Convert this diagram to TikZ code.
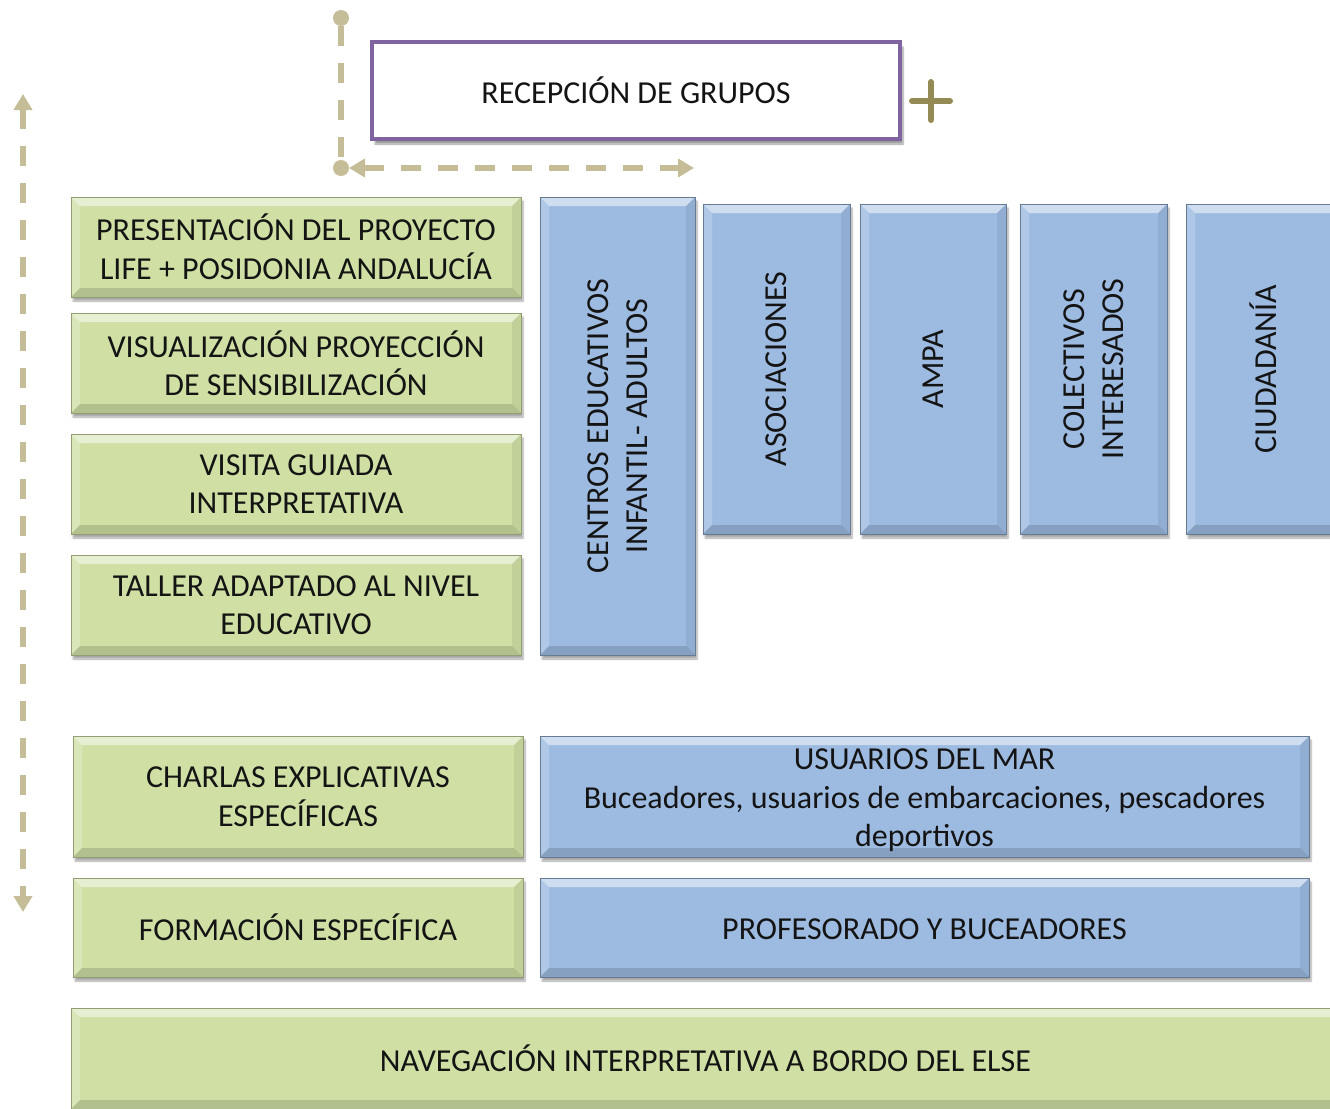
\documentclass[tikz,border=0pt]{standalone}
\usepackage{fontspec}
\setmainfont{Carlito}
\usetikzlibrary{arrows.meta,shadows.blur}
\definecolor{gfill}{RGB}{208,224,165}
\definecolor{bfill}{RGB}{157,187,225}
\definecolor{purp}{RGB}{128,100,162}
\definecolor{tan}{RGB}{196,189,151}
\definecolor{olive}{RGB}{148,138,84}
\definecolor{txt}{RGB}{20,20,20}
\tikzset{
  bevel/.style={path picture={
    \fill[white,opacity=.5] (path picture bounding box.north west) -- (path picture bounding box.north east) -- ([xshift=-9pt,yshift=-9pt]path picture bounding box.north east) -- ([xshift=9pt,yshift=-9pt]path picture bounding box.north west) -- cycle;
    \fill[white,opacity=.2] (path picture bounding box.north west) -- ([xshift=9pt,yshift=-9pt]path picture bounding box.north west) -- ([xshift=9pt,yshift=9pt]path picture bounding box.south west) -- (path picture bounding box.south west) -- cycle;
    \fill[black,opacity=.07] (path picture bounding box.north east) -- ([xshift=-9pt,yshift=-9pt]path picture bounding box.north east) -- ([xshift=-9pt,yshift=9pt]path picture bounding box.south east) -- (path picture bounding box.south east) -- cycle;
    \fill[black,opacity=.14] (path picture bounding box.south west) -- ([xshift=9pt,yshift=9pt]path picture bounding box.south west) -- ([xshift=-9pt,yshift=9pt]path picture bounding box.south east) -- (path picture bounding box.south east) -- cycle;
  }},
  box/.style={rectangle, inner sep=0pt, outer sep=0pt, bevel,
    blur shadow={shadow xshift=2pt, shadow yshift=-4pt, shadow blur steps=6, shadow opacity=35}},
  gbox/.style={box, fill=gfill, draw=gfill!70!black, line width=0.6pt},
  bbox/.style={box, fill=bfill, draw=bfill!65!black, line width=0.6pt},
  lbl/.style={text=txt, align=center, font=\fontsize{32}{38.5}\selectfont, inner sep=0pt},
  rlbl/.style={lbl, rotate=90},
  conn/.style={draw=tan, line width=6pt, dash pattern=on 20pt off 17pt},
  dot/.style={circle, fill=tan, minimum size=16pt, inner sep=0pt, outer sep=0pt}
}
\begin{document}
\begin{tikzpicture}[x=1pt,y=-1pt]
\useasboundingbox (0,0) rectangle (1330,1108);
% top box
\node[rectangle, fill=white, draw=purp, line width=4.5pt, minimum width=528, minimum height=97,
  blur shadow={shadow xshift=3pt, shadow yshift=-5pt, shadow blur steps=6, shadow opacity=40}] (rec) at (636,90.5) {};
\node[lbl] (rect) at (rec.center) {RECEPCIÓN DE GRUPOS};
% plus sign
\coordinate (pl) at (931,101);
\draw[olive, line width=6pt, line cap=round] ([xshift=-19pt]pl) -- ([xshift=19pt]pl) ([yshift=19pt]pl) -- ([yshift=-19pt]pl);
% green boxes
\node[gbox, minimum width=450, minimum height=100] (g1) at (296,247) {};
\node[lbl] (g1t) at (g1.center) {PRESENTACIÓN DEL PROYECTO\\LIFE + POSIDONIA ANDALUCÍA};
\node[gbox, minimum width=450, minimum height=100] (g2) at (296,363) {};
\node[lbl] (g2t) at (g2.center) {VISUALIZACIÓN PROYECCIÓN\\DE SENSIBILIZACIÓN};
\node[gbox, minimum width=450, minimum height=100] (g3) at (296,484) {};
\node[lbl] (g3t) at (g3.center) {VISITA GUIADA\\INTERPRETATIVA};
\node[gbox, minimum width=450, minimum height=100] (g4) at (296,605) {};
\node[lbl] (g4t) at (g4.center) {TALLER ADAPTADO AL NIVEL\\EDUCATIVO};
\node[gbox, minimum width=450, minimum height=121] (g5) at (298,796.5) {};
\node[lbl] (g5t) at (g5.center) {CHARLAS EXPLICATIVAS\\ESPECÍFICAS};
\node[gbox, minimum width=450, minimum height=99] (g6) at (298,927.5) {};
\node[lbl] (g6t) at (g6.center) {FORMACIÓN ESPECÍFICA};
\node[gbox, minimum width=1269, minimum height=101] (g7) at (705.5,1058.5) {};
\node[lbl] (g7t) at (g7.center) {NAVEGACIÓN INTERPRETATIVA A BORDO DEL ELSE};
% blue boxes
\node[bbox, minimum width=155, minimum height=458] (b1) at (617.5,426) {};
\node[rlbl] (b1t) at (b1.center) {CENTROS EDUCATIVOS\\INFANTIL- ADULTOS};
\node[bbox, minimum width=147, minimum height=330] (b2) at (776.5,369) {};
\node[rlbl] (b2t) at (b2.center) {ASOCIACIONES};
\node[bbox, minimum width=146, minimum height=330] (b3) at (933,369) {};
\node[rlbl] (b3t) at (b3.center) {AMPA};
\node[bbox, minimum width=147, minimum height=330] (b4) at (1093.5,369) {};
\node[rlbl] (b4t) at (b4.center) {COLECTIVOS\\INTERESADOS};
\node[bbox, minimum width=154, minimum height=330] (b5) at (1263,369) {};
\node[rlbl] (b5t) at (b5.center) {CIUDADANÍA};
\node[bbox, minimum width=769, minimum height=121] (b6) at (924.5,796.5) {};
\node[lbl] (b6t) at ([yshift=-4pt]b6.center) {USUARIOS DEL MAR\\Buceadores, usuarios de embarcaciones, pescadores\\deportivos};
\node[bbox, minimum width=769, minimum height=99] (b7) at (924.5,927.5) {};
\node[lbl] (b7t) at ([yshift=-2pt]b7.center) {PROFESORADO Y BUCEADORES};
% connectors
\node[dot] (d1) at (341,18) {};
\node[dot] (d2) at (341,168) {};
\coordinate (hl) at (349,168);
\coordinate (hr) at (694,168);
\draw[conn] (d1) -- (d2);
\draw[conn, {Triangle[length=16pt,width=18pt]}-{Triangle[length=16pt,width=18pt]}] (hl) -- (hr);
\coordinate (vt) at (23,94);
\coordinate (vb) at (23,912);
\draw[conn, {Triangle[length=16pt,width=18pt]}-{Triangle[length=16pt,width=18pt]}] (vt) -- (vb);
\end{tikzpicture}
\end{document}
